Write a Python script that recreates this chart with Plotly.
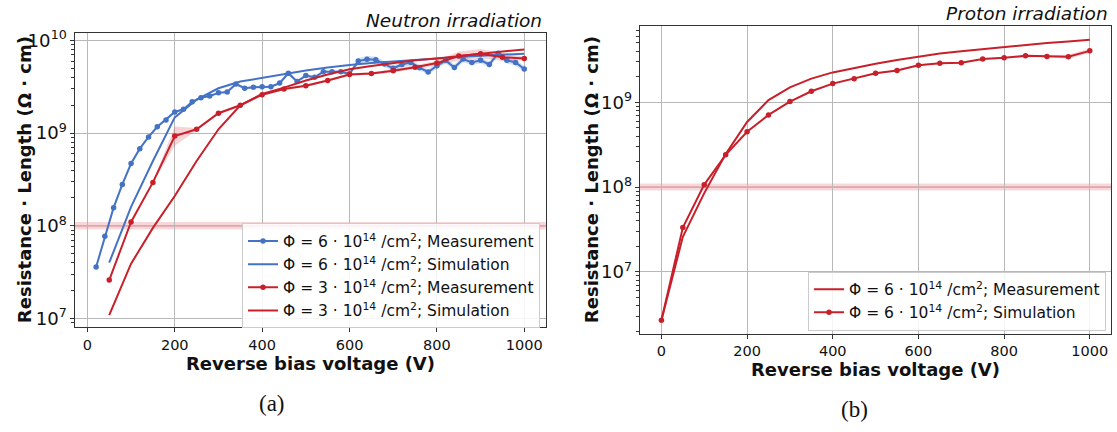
import plotly.graph_objects as go

# ---------------- data: (a) neutron irradiation ----------------
n6_meas_v = [20, 40, 60, 80, 100, 120, 140, 160, 180, 200, 220, 240, 260, 280, 300,
             320, 340, 360, 380, 400, 420, 440, 460, 480, 500, 520, 540, 560, 580, 600,
             620, 640, 660, 680, 700, 720, 740, 760, 780, 800, 820, 840, 860, 880, 900,
             920, 940, 960, 980, 1000]
n6_meas_r = [3.6e7, 7.7e7, 1.57e8, 2.8e8, 4.7e8, 6.8e8, 9.1e8, 1.17e9, 1.39e9, 1.69e9,
             1.81e9, 2.18e9, 2.41e9, 2.52e9, 2.72e9, 2.78e9, 3.39e9, 3.05e9, 3.13e9, 3.17e9,
             3.17e9, 3.47e9, 4.43e9, 3.61e9, 4.18e9, 4.0e9, 4.6e9, 4.6e9, 4.6e9, 4.36e9,
             5.99e9, 6.28e9, 6.2e9, 5.56e9, 5.01e9, 5.5e9, 5.8e9, 5.08e9, 4.57e9, 5.33e9,
             6.1e9, 5.1e9, 6.3e9, 5.8e9, 6.1e9, 5.5e9, 7.28e9, 6.1e9, 5.8e9, 4.92e9]
n6_meas_err = [0.02, 0.02, 0.02, 0.02, 0.02, 0.02, 0.02, 0.02, 0.02, 0.02,
               0.02, 0.02, 0.02, 0.02, 0.02, 0.03, 0.04, 0.03, 0.03, 0.03,
               0.03, 0.04, 0.05, 0.04, 0.04, 0.04, 0.04, 0.04, 0.04, 0.05,
               0.08, 0.08, 0.08, 0.07, 0.08, 0.08, 0.08, 0.07, 0.07, 0.07,
               0.08, 0.07, 0.08, 0.07, 0.08, 0.08, 0.08, 0.08, 0.08, 0.08]

n6_sim_v = [50, 100, 150, 200, 250, 300, 350, 400, 450, 500, 550, 600, 650, 700, 750,
            800, 850, 900, 950, 1000]
n6_sim_r = [4.0e7, 1.6e8, 5.0e8, 1.48e9, 2.3e9, 3.05e9, 3.6e9, 3.95e9, 4.4e9, 4.75e9,
            5.1e9, 5.45e9, 5.7e9, 5.95e9, 6.2e9, 6.45e9, 6.65e9, 6.85e9, 7.0e9, 7.2e9]

n3_meas_v = [50, 100, 150, 200, 250, 300, 350, 400, 450, 500, 550, 600, 650, 700, 750,
             800, 850, 900, 950, 1000]
n3_meas_r = [2.6e7, 1.1e8, 2.94e8, 9.3e8, 1.1e9, 1.64e9, 2.0e9, 2.6e9, 3.0e9, 3.25e9,
             3.7e9, 4.3e9, 4.4e9, 4.7e9, 5.15e9, 5.7e9, 6.8e9, 7.2e9, 6.6e9, 6.4e9]
n3_meas_err = [0.02, 0.02, 0.02, 0.27, 0.03, 0.03, 0.03, 0.03, 0.03, 0.03,
               0.03, 0.03, 0.03, 0.04, 0.05, 0.06, 0.12, 0.12, 0.10, 0.05]

n3_sim_v = [50, 100, 150, 200, 250, 300, 350, 400, 450, 500, 550, 600, 650, 700, 750,
            800, 850, 900, 950, 1000]
n3_sim_r = [1.09e7, 3.9e7, 9.5e7, 2.1e8, 5.0e8, 1.1e9, 2.0e9, 2.65e9, 3.1e9, 3.7e9,
            4.3e9, 4.9e9, 5.3e9, 5.7e9, 6.1e9, 6.4e9, 6.8e9, 7.2e9, 7.6e9, 8.0e9]

# ---------------- data: (b) proton irradiation ----------------
p_line_v = [0, 50, 100, 150, 200, 250, 300, 350, 400, 450, 500, 550, 600, 650, 700,
            750, 800, 850, 900, 950, 1000]
p_line_r = [2.7e6, 2.6e7, 8.5e7, 2.45e8, 5.86e8, 1.06e9, 1.5e9, 1.9e9, 2.25e9, 2.55e9,
            2.85e9, 3.15e9, 3.45e9, 3.75e9, 4.0e9, 4.25e9, 4.5e9, 4.75e9, 5.0e9, 5.2e9, 5.45e9]

p_mark_v = [0, 50, 100, 150, 200, 250, 300, 350, 400, 450, 500, 550, 600, 650, 700,
            750, 800, 850, 900, 950, 1000]
p_mark_r = [2.7e6, 3.34e7, 1.07e8, 2.4e8, 4.49e8, 7.1e8, 1.02e9, 1.35e9, 1.66e9, 1.9e9,
            2.2e9, 2.37e9, 2.73e9, 2.88e9, 2.93e9, 3.24e9, 3.34e9, 3.53e9, 3.47e9, 3.45e9, 4.04e9]
p_mark_err = [0.02, 0.02, 0.02, 0.02, 0.02, 0.02, 0.02, 0.02, 0.02, 0.02,
              0.02, 0.02, 0.02, 0.02, 0.02, 0.02, 0.02, 0.03, 0.03, 0.06, 0.06]

ref_level = 1e8
ref_band = [0.91e8, 1.10e8]

x_ticks = [0, 200, 400, 600, 800, 1000]

legend_a = [
    "Φ = 6 · 10<sup>14</sup> /cm<sup>2</sup>; Measurement",
    "Φ = 6 · 10<sup>14</sup> /cm<sup>2</sup>; Simulation",
    "Φ = 3 · 10<sup>14</sup> /cm<sup>2</sup>; Measurement",
    "Φ = 3 · 10<sup>14</sup> /cm<sup>2</sup>; Simulation",
]
legend_b = [
    "Φ = 6 · 10<sup>14</sup> /cm<sup>2</sup>; Measurement",
    "Φ = 6 · 10<sup>14</sup> /cm<sup>2</sup>; Simulation",
]

# ---------------- styles ----------------
BLUE = "#4472c4"
RED = "#c8202a"
BLUE_FILL = "rgba(68,114,196,0.22)"
RED_FILL = "rgba(214,60,70,0.22)"
FONT = "DejaVu Sans"
TXT = "#111111"
W, H = 1117, 432

fig = go.Figure()


def band(v, r, err, color, xa, ya):
    up = [a * (1 + e) for a, e in zip(r, err)]
    lo = [a / (1 + e) for a, e in zip(r, err)]
    fig.add_trace(go.Scatter(x=list(v) + list(v)[::-1], y=up + lo[::-1], fill="toself",
                             fillcolor=color, line=dict(width=0), mode="lines",
                             showlegend=False, hoverinfo="skip", xaxis=xa, yaxis=ya))


band(n6_meas_v, n6_meas_r, n6_meas_err, BLUE_FILL, "x", "y")
band(n3_meas_v, n3_meas_r, n3_meas_err, RED_FILL, "x", "y")
band(p_mark_v, p_mark_r, p_mark_err, RED_FILL, "x2", "y2")

mk = dict(size=5.5, symbol="circle")
fig.add_trace(go.Scatter(x=n6_meas_v, y=n6_meas_r, mode="lines+markers", name=legend_a[0],
                         line=dict(color=BLUE, width=2), marker=dict(color=BLUE, **mk),
                         xaxis="x", yaxis="y", legend="legend", legendgroup="a1"))
fig.add_trace(go.Scatter(x=n6_sim_v, y=n6_sim_r, mode="lines", name=legend_a[1],
                         line=dict(color=BLUE, width=2),
                         xaxis="x", yaxis="y", legend="legend", legendgroup="a2"))
fig.add_trace(go.Scatter(x=n3_meas_v, y=n3_meas_r, mode="lines+markers", name=legend_a[2],
                         line=dict(color=RED, width=2), marker=dict(color=RED, **mk),
                         xaxis="x", yaxis="y", legend="legend", legendgroup="a3"))
fig.add_trace(go.Scatter(x=n3_sim_v, y=n3_sim_r, mode="lines", name=legend_a[3],
                         line=dict(color=RED, width=2),
                         xaxis="x", yaxis="y", legend="legend", legendgroup="a4"))

fig.add_trace(go.Scatter(x=p_line_v, y=p_line_r, mode="lines", name=legend_b[0],
                         line=dict(color=RED, width=2),
                         xaxis="x2", yaxis="y2", legend="legend2", legendgroup="b1"))
fig.add_trace(go.Scatter(x=p_mark_v, y=p_mark_r, mode="lines+markers", name=legend_b[1],
                         line=dict(color=RED, width=2), marker=dict(color=RED, **mk),
                         xaxis="x2", yaxis="y2", legend="legend2", legendgroup="b2"))

# reference level with band, spanning full axes width
for xr, yr in (("x", "y"), ("x2", "y2")):
    fig.add_shape(type="rect", xref=f"{xr} domain", yref=yr, x0=0, x1=1,
                  y0=ref_band[0], y1=ref_band[1], fillcolor="rgba(214,60,70,0.2)",
                  line=dict(width=0), layer="below")
    fig.add_shape(type="line", xref=f"{xr} domain", yref=yr, x0=0, x1=1,
                  y0=ref_level, y1=ref_level, line=dict(color="rgba(170,40,50,0.45)", width=1.2),
                  layer="below")

axis_common = dict(showline=True, mirror=True, linecolor="#333333", linewidth=1.1,
                   showgrid=True, gridcolor="#b8b8b8", gridwidth=1,
                   ticks="outside", ticklen=4, tickcolor="#333333",
                   tickfont=dict(family=FONT, size=14.5, color=TXT), zeroline=False)

xa_dom = [74.7 / W, 545.7 / W]
xb_dom = [640 / W, 1111.2 / W]
ya_dom = [(H - 326.7) / H, (H - 27.3) / H]
yb_dom = [(H - 333.3) / H, (H - 20.7) / H]

fig.update_layout(
    width=W, height=H, margin=dict(l=0, r=0, t=0, b=0),
    paper_bgcolor="white", plot_bgcolor="white",
    font=dict(family=FONT, color=TXT),
    xaxis=dict(domain=xa_dom, range=[-29, 1049], tickvals=x_ticks, anchor="y", **axis_common),
    yaxis=dict(domain=ya_dom, type="log", range=[6.904, 10.082], dtick=1, exponentformat="power",
               anchor="x", minor=dict(dtick="D1", ticks="outside", ticklen=2.5,
                                      tickcolor="#333333", showgrid=False), **axis_common),
    xaxis2=dict(domain=xb_dom, range=[-50, 1050], tickvals=x_ticks, anchor="y2", **axis_common),
    yaxis2=dict(domain=yb_dom, type="log", range=[6.27, 9.895], dtick=1, exponentformat="power",
                anchor="x2", minor=dict(dtick="D1", ticks="outside", ticklen=2.5,
                                        tickcolor="#333333", showgrid=False), **axis_common),
    legend=dict(x=540 / W, y=1 - 221 / H, xanchor="right", yanchor="top",
                bgcolor="rgba(255,255,255,0.85)", bordercolor="#cccccc", borderwidth=1,
                font=dict(family=FONT, size=15.5, color=TXT), itemwidth=30, tracegroupgap=0),
    legend2=dict(x=1106 / W, y=1 - 270 / H, xanchor="right", yanchor="top",
                 bgcolor="rgba(255,255,255,0.85)", bordercolor="#cccccc", borderwidth=1,
                 font=dict(family=FONT, size=15.5, color=TXT), itemwidth=30, tracegroupgap=0),
    showlegend=True,
)

bold = dict(family=FONT, size=18, color=TXT)
ann = [
    dict(text="<b>Reverse bias voltage (V)</b>", x=(xa_dom[0] + xa_dom[1]) / 2, y=1 - 363 / H,
         font=bold),
    dict(text="<b>Reverse bias voltage (V)</b>", x=(xb_dom[0] + xb_dom[1]) / 2, y=1 - 369 / H,
         font=bold),
    dict(text="<b>Resistance · Length (Ω · cm)</b>", x=24 / W, y=1 - 177 / H, textangle=-90,
         font=bold),
    dict(text="<b>Resistance · Length (Ω · cm)</b>", x=591 / W, y=1 - 177 / H, textangle=-90,
         font=bold),
    dict(text="<i>Neutron irradiation</i>", x=544 / W, y=1 - 14.5 / H, xanchor="right",
         font=dict(family=FONT, size=18.5, color=TXT)),
    dict(text="<i>Proton irradiation</i>", x=1110 / W, y=1 - 7.5 / H, xanchor="right",
         font=dict(family=FONT, size=18.5, color=TXT)),
    dict(text="(a)", x=272 / W, y=1 - 404 / H, font=dict(family="Liberation Serif", size=23, color=TXT)),
    dict(text="(b)", x=854 / W, y=1 - 410 / H, font=dict(family="Liberation Serif", size=23, color=TXT)),
]
for a in ann:
    a.setdefault("xanchor", "center")
    fig.add_annotation(xref="paper", yref="paper", showarrow=False, yanchor="middle", **a)

fig.write_html("out.html")
